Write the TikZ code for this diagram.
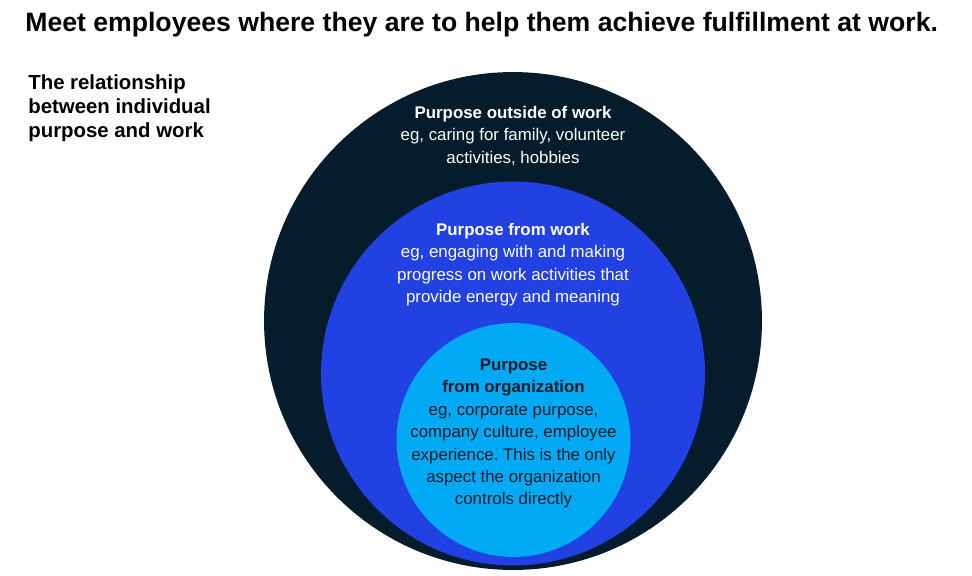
\documentclass[tikz,border=0pt]{standalone}
\usepackage{fontspec}
\setmainfont{Liberation Sans}
\usepackage{xcolor}
\usetikzlibrary{positioning}
\frenchspacing

\definecolor{navy}{HTML}{051C2C}
\definecolor{royal}{HTML}{2241E3}
\definecolor{sky}{HTML}{00A9F4}

\begin{document}
\begin{tikzpicture}[x=0.02cm,y=-0.02cm,every node/.style={inner sep=0pt},
	ring/.style={circle,draw=none,minimum size=#1},
	ringtext/.style={align=center,anchor=north,font=\fontsize{9.6}{12.76}\selectfont}]
				\useasboundingbox (0,0) rectangle (972,575);
				%title and side note placed by hand
				\node[anchor=base west,font=\fontsize{15.15}{18}\selectfont\bfseries] (title) at (25,31)
					{Meet employees where they are to help them achieve fulfillment at work.};
				\node[anchor=north west,align=left,font=\fontsize{11.6}{13.6}\selectfont\bfseries] (side) at (28,74.5)
					{The relationship\\between individual\\purpose and work};
				%% the three circles, biggest first
				\node[ring=9.96cm,fill=navy] (outside) at (513,321){};
				\node[ring=7.68cm,fill=royal] (work) at (513,373.5){};
				\node[ring=4.68cm,fill=sky] (org) at (513.5,440){};
				%% texts inside the circles
				\node[ringtext,text=white] (outsidetext) at (513,105.6)
					{\textbf{Purpose outside of work}\\eg, caring for family, volunteer\\activities, hobbies};
				\node[ringtext,text=white] (worktext) at (513,222.6)
					{\textbf{Purpose from work}\\eg, engaging with and making\\progress on work activities that\\provide energy and meaning};
				\node[ringtext,text=navy] (orgtext) at (513.5,358.5)
					{\textbf{Purpose}\\\textbf{from organization}\\eg, corporate purpose,\\company culture, employee\\experience. This is the only\\aspect the organization\\controls directly};
				\end{tikzpicture}
\end{document}
